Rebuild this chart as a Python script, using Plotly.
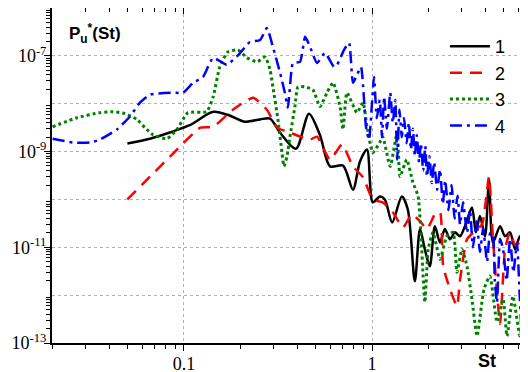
import plotly.graph_objects as go

# ---- data ----
st1 = [0.050, 0.066, 0.084, 0.108, 0.143, 0.176, 0.211, 0.254, 0.287, 0.324, 0.394, 0.462, 0.529, 0.598,
       0.701, 0.792, 0.863, 0.940, 1.01, 1.10, 1.17, 1.28, 1.44, 1.55, 1.69, 1.80, 1.91, 2.03, 2.16, 2.30,
       2.44, 2.60, 2.76, 2.94, 3.12, 3.40, 3.57, 3.75, 3.99, 4.19, 4.40, 4.80, 5.10, 5.42, 5.77, 6.12, 6.51]
p1 = [1.48e-9, 1.86e-9, 2.5e-9, 3.6e-9, 6.8e-9, 5.6e-9, 4.2e-9, 4.7e-9, 4.9e-9, 2.5e-9, 1.15e-9, 6.2e-9, 2.2e-9, 4.9e-10,
      5.1e-10, 1.6e-10, 6.2e-10, 1.1e-9, 8.7e-11, 1.15e-10, 1e-10, 3.3e-11, 1.15e-10, 6.2e-11, 1.95e-12, 2.4e-11, 9.1e-12, 4e-12, 2.75e-11, 1.26e-11,
      2.4e-11, 1.47e-11, 2.05e-11, 1.7e-11, 2.75e-11, 6.8e-11, 2.05e-11, 4.5e-11, 1.7e-11, 2.6e-10, 1.26e-11, 2.75e-11, 1.7e-11, 2.05e-11, 9.1e-12, 1.7e-11, 1e-11]

st2 = [0.050, 0.066, 0.0896, 0.122, 0.143, 0.182, 0.233, 0.276, 0.313, 0.366, 0.414, 0.468, 0.510, 0.598, 0.692,
       0.792, 0.896, 1.01, 1.14, 1.29, 1.46, 1.63, 1.80, 1.96, 2.16, 2.30, 2.39, 2.60, 2.83, 2.94, 3.20, 3.53,
       3.85, 4.19, 4.40, 4.80, 5.10, 5.42, 5.77, 6.12, 6.51]
p2 = [1e-10, 3.0e-10, 1e-9, 3.16e-9, 3.3e-9, 7.5e-9, 1.33e-8, 7.5e-9, 3.16e-9, 2.5e-9, 2.05e-9, 1.78e-9, 2.05e-9, 6.8e-10, 1.4e-9,
      4.9e-10, 2.9e-10, 1e-10, 8.7e-11, 5.4e-11, 2.6e-11, 4.9e-11, 3.5e-11, 2.4e-11, 4.9e-11, 5.4e-11, 4e-12, 1.33e-12, 5.9e-13, 2.1e-12, 1.47e-11, 2.2e-11,
      3.0e-11, 3.0e-10, 1.47e-11, 2.5e-13, 9.1e-12, 2.05e-11, 1.1e-11, 1.26e-11, 7.2e-12]

st3 = [0.020, 0.027, 0.0357, 0.0419, 0.0485, 0.0562, 0.062, 0.0684, 0.0812, 0.0918, 0.105, 0.132, 0.143, 0.155,
       0.171, 0.194, 0.216, 0.245, 0.270, 0.287, 0.297, 0.316, 0.332, 0.340, 0.353, 0.366, 0.389, 0.404, 0.441,
       0.485, 0.529, 0.576, 0.621, 0.676, 0.701, 0.736, 0.832, 0.896, 0.940, 1.01, 1.10, 1.14, 1.25, 1.36, 1.41,
       1.53, 1.65, 1.76, 1.91, 1.99, 2.11, 2.30, 2.50, 2.70, 2.83, 3.01, 3.20, 3.40, 3.62, 3.94, 4.24, 4.62, 4.98,
       5.22, 5.62, 6.12, 6.51]
p3 = [3.3e-9, 5.1e-9, 6.5e-9, 6.8e-9, 6.2e-9, 4.7e-9, 3.16e-9, 2.25e-9, 1.86e-9, 2.9e-9, 6.5e-9, 6.8e-9, 1.4e-8, 5.9e-8,
      1.2e-7, 1.33e-7, 9.1e-8, 7.5e-8, 9.5e-8, 5.1e-8, 2.25e-8, 4.7e-9, 9.5e-10, 4.9e-10, 7.9e-10, 2.05e-9, 8.7e-9, 2.25e-8, 2.25e-8,
      1.95e-8, 8.7e-9, 1.7e-8, 2.75e-8, 8.7e-9, 2.9e-9, 1.7e-8, 6.5e-9, 1.05e-8, 3.3e-9, 9.5e-10, 1.55e-9, 2.05e-9, 4.9e-10, 2.5e-9, 3.0e-10,
      6.8e-10, 2.25e-10, 1.15e-10, 7.1e-13, 9.1e-12, 2.05e-11, 5.6e-12, 1.7e-11, 2.05e-11, 3.0e-12, 9.1e-12, 4e-12, 8.3e-13, 1.4e-13, 1.33e-12, 2.5e-12, 2.75e-13, 8.3e-13,
      1.4e-13, 9.5e-13, 1.4e-13, 9.5e-13]

st4 = [0.020, 0.0257, 0.0316, 0.0357, 0.044, 0.0516, 0.0583, 0.066, 0.0874, 0.0988, 0.112, 0.126, 0.143, 0.169,
       0.199, 0.224, 0.254, 0.276, 0.297, 0.324, 0.344, 0.357, 0.366, 0.380, 0.414, 0.441, 0.468, 0.510, 0.562,
       0.628, 0.652, 0.710, 0.755, 0.792, 0.832, 0.874, 0.929, 0.964,
       1.025, 1.06, 1.10, 1.13, 1.16, 1.20, 1.25, 1.29, 1.33, 1.36, 1.40, 1.44, 1.48, 1.53, 1.57, 1.61, 1.65,
       1.69, 1.73, 1.78, 1.82, 1.87, 1.92, 1.96, 2.02, 2.08, 2.14, 2.22, 2.30, 2.38, 2.45, 2.55, 2.65, 2.75,
       2.85, 2.94, 3.05, 3.20, 3.32, 3.44, 3.60, 3.75, 3.90, 4.09, 4.25, 4.40, 4.50, 4.62, 4.80, 4.98, 5.20,
       5.42, 5.65, 5.90, 6.10, 6.28, 6.40, 6.51]
p4 = [1.86e-9, 1.55e-9, 1.55e-9, 1.78e-9, 2.9e-9, 5.4e-9, 1.05e-8, 1.55e-8, 1.7e-8, 1.7e-8, 2.75e-8, 3.6e-8, 9.1e-8, 6.5e-8,
      1.15e-7, 1.95e-7, 2.15e-7, 3.8e-7, 1.55e-7, 4.5e-8, 1.7e-8, 8.3e-9, 2.25e-8, 7.1e-8, 7.5e-8, 2.5e-7, 1.55e-7, 7.1e-8, 1.15e-7,
      5.9e-8, 6.5e-8, 1.33e-7, 1.87e-7, 2.75e-8, 4.0e-8, 5.9e-8, 3.3e-9, 1.78e-9,
      3.6e-8, 5e-9, 1.2e-8, 2e-9, 1.4e-8, 3e-9, 1.7e-8, 4e-9, 1.2e-8, 6.8e-10, 7.5e-9, 2e-9, 5e-9, 1.5e-9, 4e-9, 1.1e-9, 3e-9,
      8e-10, 2.2e-9, 6e-10, 1.5e-9, 4e-10, 1.3e-9, 3e-10, 8e-10, 2.2e-10, 6e-10, 1.6e-10, 4.2e-10, 8e-11, 2.5e-10, 6e-11, 2e-10, 4e-11,
      1.2e-10, 3e-11, 8.7e-11, 2e-11, 6e-11, 1e-11, 3.5e-11, 8e-12, 2.5e-11, 5e-12, 2e-11, 1.7e-11, 2e-12, 7e-13, 1.5e-11, 9e-12, 2e-12,
      1.5e-11, 3e-12, 1.26e-11, 1e-12, 1.2e-13, 1e-11, 6.5e-12]

names = ["1", "2", "3", "4"]

# ---- figure ----
fig = go.Figure()
fig.add_trace(go.Scatter(x=st1, y=p1, name=names[0], mode="lines",
                         line=dict(color="black", width=2.5, shape="spline", smoothing=0.8)))
fig.add_trace(go.Scatter(x=st2, y=p2, name=names[1], mode="lines",
                         line=dict(color="#ff0000", width=2.5, dash="12px,8px", shape="spline", smoothing=0.5)))
fig.add_trace(go.Scatter(x=st3, y=p3, name=names[2], mode="lines",
                         line=dict(color="#008000", width=3, dash="dot", shape="spline", smoothing=0.5)))
fig.add_trace(go.Scatter(x=st4, y=p4, name=names[3], mode="lines",
                         line=dict(color="#0000ff", width=2.5, dash="12px,5px,3px,5px", shape="spline", smoothing=0.5)))
# empty helper traces so that the mirrored top / right axes get drawn
fig.add_trace(go.Scatter(x=[None], y=[None], xaxis="x2", yaxis="y", showlegend=False, hoverinfo="skip"))
fig.add_trace(go.Scatter(x=[None], y=[None], xaxis="x", yaxis="y2", showlegend=False, hoverinfo="skip"))

xr = [-1.702, 0.819]
yr = [-13, -6]
ydec = [10.0 ** e for e in range(-13, -5)]
ylab_vals = [10.0 ** e for e in range(-13, -5) if e % 2]
ylab_text = ["10<sup>%d</sup>" % e for e in range(-13, -5) if e % 2]
yminor = [m * 10.0 ** e for e in range(-13, -6) for m in range(2, 10)]
xminor = [m * 10.0 ** e for e in range(-2, 1) for m in range(2, 10)]

axis_font = dict(family="Liberation Serif, Times New Roman, serif", size=18, color="black")
common = dict(type="log", showline=True, linecolor="black", linewidth=2, zeroline=False,
              tickwidth=1.2, tickcolor="black", ticklen=6, automargin=False)

fig.update_layout(
    xaxis=dict(range=xr, ticks="outside", tickvals=[0.1, 1], ticktext=["0.1", "1"], tickfont=axis_font,
               showgrid=True, gridcolor="#b0b0b0", griddash="dot", gridwidth=1, ticklabelstandoff=-3,
               minor=dict(tickvals=xminor, ticks="outside", ticklen=4, tickcolor="black", showgrid=False),
               **common),
    yaxis=dict(range=yr, ticks="outside", tickvals=ylab_vals, ticktext=ylab_text, tickfont=axis_font,
               showgrid=False, ticklabelstandoff=-6,
               minor=dict(tickvals=yminor, ticks="outside", ticklen=4, tickcolor="black", showgrid=False),
               **common),
    xaxis2=dict(range=xr, overlaying="x", side="top", anchor="y", ticks="inside", tickvals=[0.1, 1],
                showticklabels=False, showgrid=False,
                minor=dict(tickvals=xminor, ticks="inside", ticklen=4, tickcolor="black", showgrid=False),
                **common),
    yaxis2=dict(range=yr, overlaying="y", side="right", anchor="x", ticks="inside", tickvals=ydec,
                showticklabels=False, showgrid=True, gridcolor="#b0b0b0", griddash="dot", gridwidth=1,
                minor=dict(tickvals=yminor, ticks="inside", ticklen=4, tickcolor="black", showgrid=False),
                **common),
)

fig.add_annotation(text="<b>P<sub>u</sub><sup>*</sup>(St)</b>", xref="paper", yref="paper",
                   x=0.032, y=0.925, xanchor="left", yanchor="middle", showarrow=False,
                   font=dict(family="Arial, Liberation Sans, sans-serif", size=17, color="black"))
fig.add_annotation(text="<b>St</b>", xref="paper", yref="paper",
                   x=0.918, y=-0.054, xanchor="center", yanchor="middle", showarrow=False,
                   font=dict(family="Arial, Liberation Sans, sans-serif", size=18, color="black"))

# the page body adds an 8px margin, so the figure is 8px smaller than the window
fig.update_layout(width=520, height=364, margin=dict(l=44, r=2, t=0, b=29),
                  paper_bgcolor="white", plot_bgcolor="white", showlegend=True,
                  legend=dict(x=0.829, y=0.940, xanchor="left", yanchor="top",
                              bgcolor="rgba(255,255,255,0)", borderwidth=0,
                              font=dict(family="Arial, Liberation Sans, sans-serif", size=18, color="black"),
                              itemwidth=40, tracegroupgap=0))

fig.write_html("out.html")
